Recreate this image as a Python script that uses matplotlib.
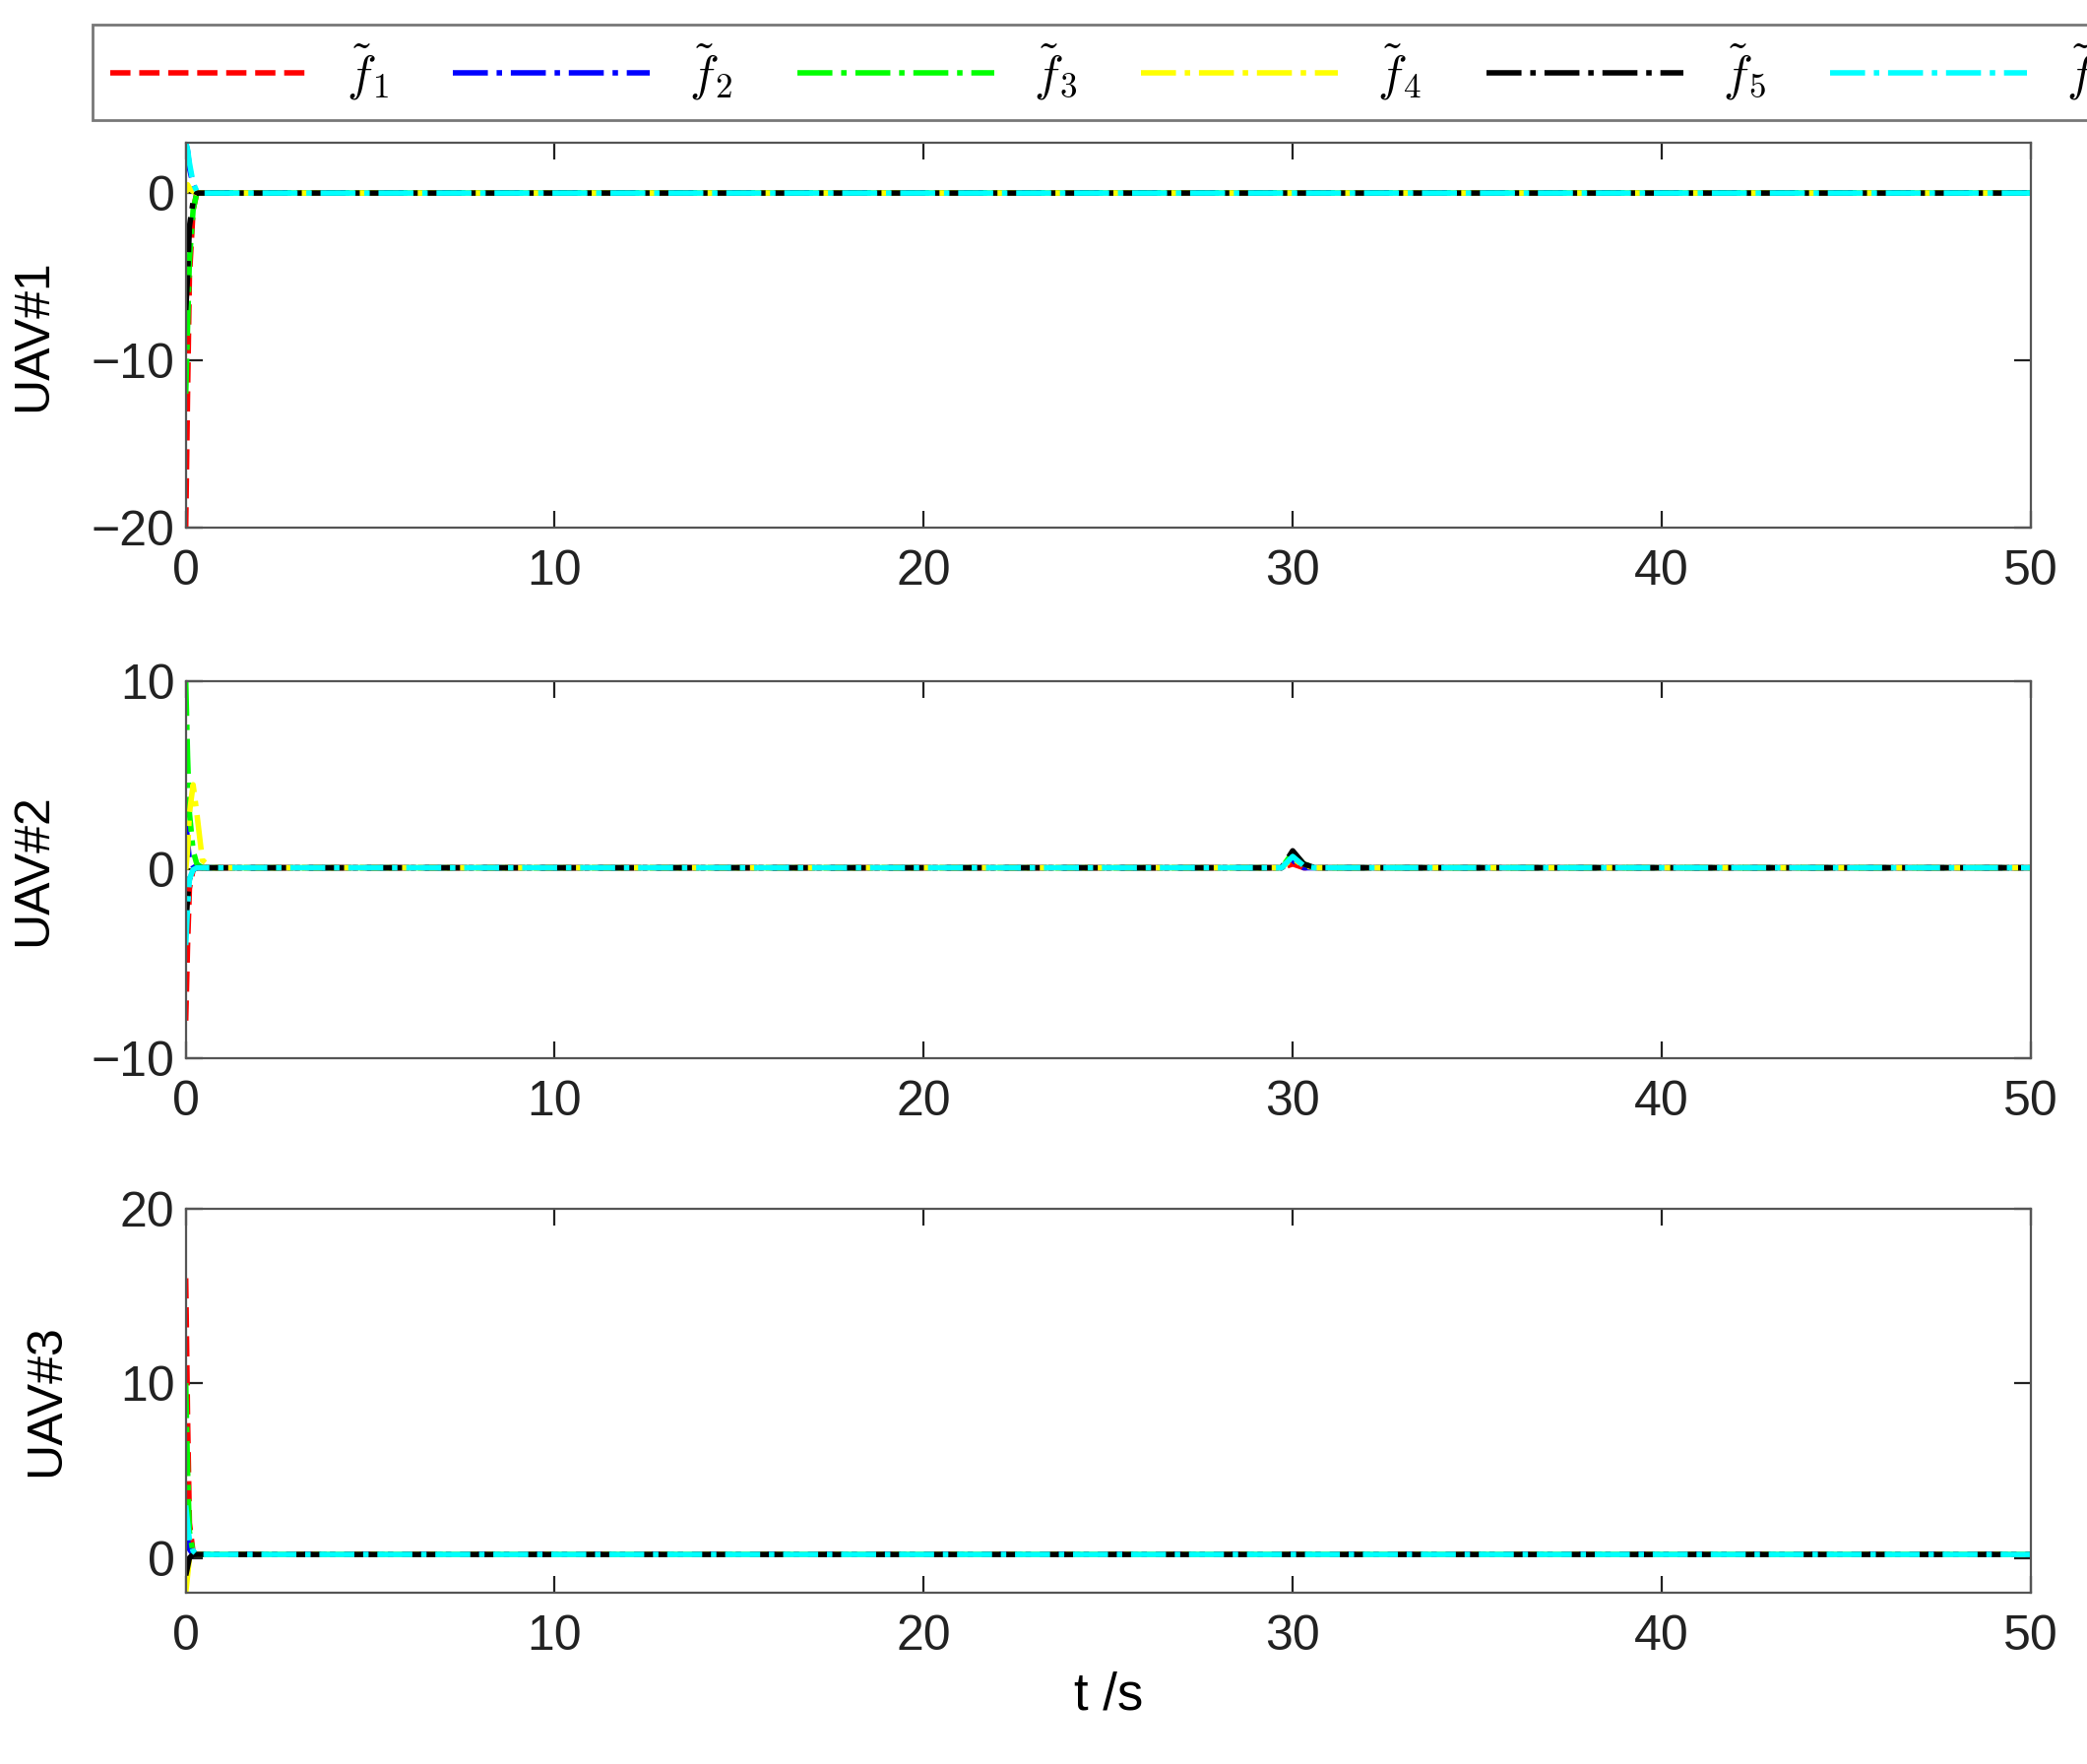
import matplotlib
matplotlib.use("Agg")
import matplotlib.pyplot as plt

plt.rcParams['font.family'] = ['Liberation Sans', 'DejaVu Sans']
plt.rcParams['mathtext.fontset'] = 'cm'

t = [0, 0.05, 0.1, 0.2, 0.3, 0.45, 0.7, 1.0, 29.7, 30.0, 30.3, 30.6, 50]
labels = [r'$\tilde{f}_1$', r'$\tilde{f}_2$', r'$\tilde{f}_3$', r'$\tilde{f}_4$', r'$\tilde{f}_5$', r'$\tilde{f}_6$']
colors = ['#ff0000', '#0000ff', '#00ff00', '#ffff00', '#000000', '#00ffff']
styles = ['--', '-.', '-.', '-.', '-.', '-.']

uav1 = [
    [-20, -12, -5, -1, 0, 0, 0, 0, 0, 0, 0, 0, 0],
    [3, 2.5, 1.5, 0.5, 0, 0, 0, 0, 0, 0, 0, 0, 0],
    [-12, -8, -4, -1, 0, 0, 0, 0, 0, 0, 0, 0, 0],
    [0, 0.5, 0.3, 0.1, 0, 0, 0, 0, 0, 0, 0, 0, 0],
    [-7, -5, -2, -0.5, 0, 0, 0, 0, 0, 0, 0, 0, 0],
    [3, 2.6, 1.8, 0.6, 0.1, 0, 0, 0, 0, 0, 0, 0, 0],
]
uav2 = [
    [-8, -4, -1, 0, 0.1, 0.1, 0.1, 0.1, 0.1, 0.3, 0.1, 0.1, 0.1],
    [2.5, 1.5, 0.5, 0.2, 0.1, 0.1, 0.1, 0.1, 0.1, 0.5, 0.1, 0.1, 0.1],
    [10, 6, 3, 1, 0.3, 0.1, 0.1, 0.1, 0.1, 0.9, 0.3, 0.1, 0.1],
    [0, 1, 3, 4.5, 3, 0.5, 0.1, 0.1, 0.1, 0.6, 0.2, 0.1, 0.1],
    [-3, -1.5, -0.5, 0, 0.1, 0.1, 0.1, 0.1, 0.1, 1.0, 0.3, 0.1, 0.1],
    [-4, -2, -0.5, 0, 0.1, 0.1, 0.1, 0.1, 0.1, 0.7, 0.2, 0.1, 0.1],
]
uav3 = [
    [16, 8, 2, 0.3, 0.2, 0.2, 0.2, 0.2, 0.2, 0.2, 0.2, 0.2, 0.2],
    [2, 1, 0.5, 0.2, 0.2, 0.2, 0.2, 0.2, 0.2, 0.2, 0.2, 0.2, 0.2],
    [10, 5, 1.5, 0.3, 0.2, 0.2, 0.2, 0.2, 0.2, 0.2, 0.2, 0.2, 0.2],
    [-2, -1, 0, 0.2, 0.2, 0.2, 0.2, 0.2, 0.2, 0.2, 0.2, 0.2, 0.2],
    [-1, -0.5, 0, 0.2, 0.2, 0.2, 0.2, 0.2, 0.2, 0.2, 0.2, 0.2, 0.2],
    [3, 2, 1, 0.4, 0.2, 0.2, 0.2, 0.2, 0.2, 0.2, 0.2, 0.2, 0.2],
]
panels = [(uav1, 'UAV#1', (-20, 3), [-20, -10, 0]),
          (uav2, 'UAV#2', (-10, 10), [-10, 0, 10]),
          (uav3, 'UAV#3', (-2, 20), [0, 10, 20])]
xticks = [0, 10, 20, 30, 40, 50]

fig = plt.figure(figsize=(10.6, 8.96), dpi=200)
boxes = [(0.701, 0.919), (0.400, 0.614), (0.097, 0.315)]
lab_x = [-0.07, -0.07, -0.063]
handles = None
for (data, name, yl, yt), (b, tp), lx in zip(panels, boxes, lab_x):
    ax = fig.add_axes([0.089, b, 0.884, tp - b])
    hs = []
    for k in range(6):
        h, = ax.plot(t, data[k], color=colors[k], ls=styles[k], lw=2.0)
        hs.append(h)
    handles = hs
    ax.set_xlim(0, 50)
    ax.set_ylim(*yl)
    ax.set_xticks(xticks)
    ax.set_yticks(yt)
    ax.tick_params(direction='in', top=True, right=True, labelsize=18, length=6,
                   colors='#222222', pad=8)
    ax.tick_params(axis='y', pad=4)
    for s in ax.spines.values():
        s.set_color('#555555')
    ax.set_ylabel(name, fontsize=18)
    ax.yaxis.set_label_coords(lx, 0.5)
    if name == 'UAV#3':
        ax.set_xlabel('t /s', fontsize=19, labelpad=4)

fig.legend(handles, labels, loc='center', bbox_to_anchor=(0.532, 0.959), ncol=6,
           fontsize=18, frameon=True, fancybox=False, edgecolor='#555555',
           handlelength=4.0, columnspacing=1.3, handletextpad=0.8, borderpad=0.35)
fig.savefig('out.png', dpi=200)
